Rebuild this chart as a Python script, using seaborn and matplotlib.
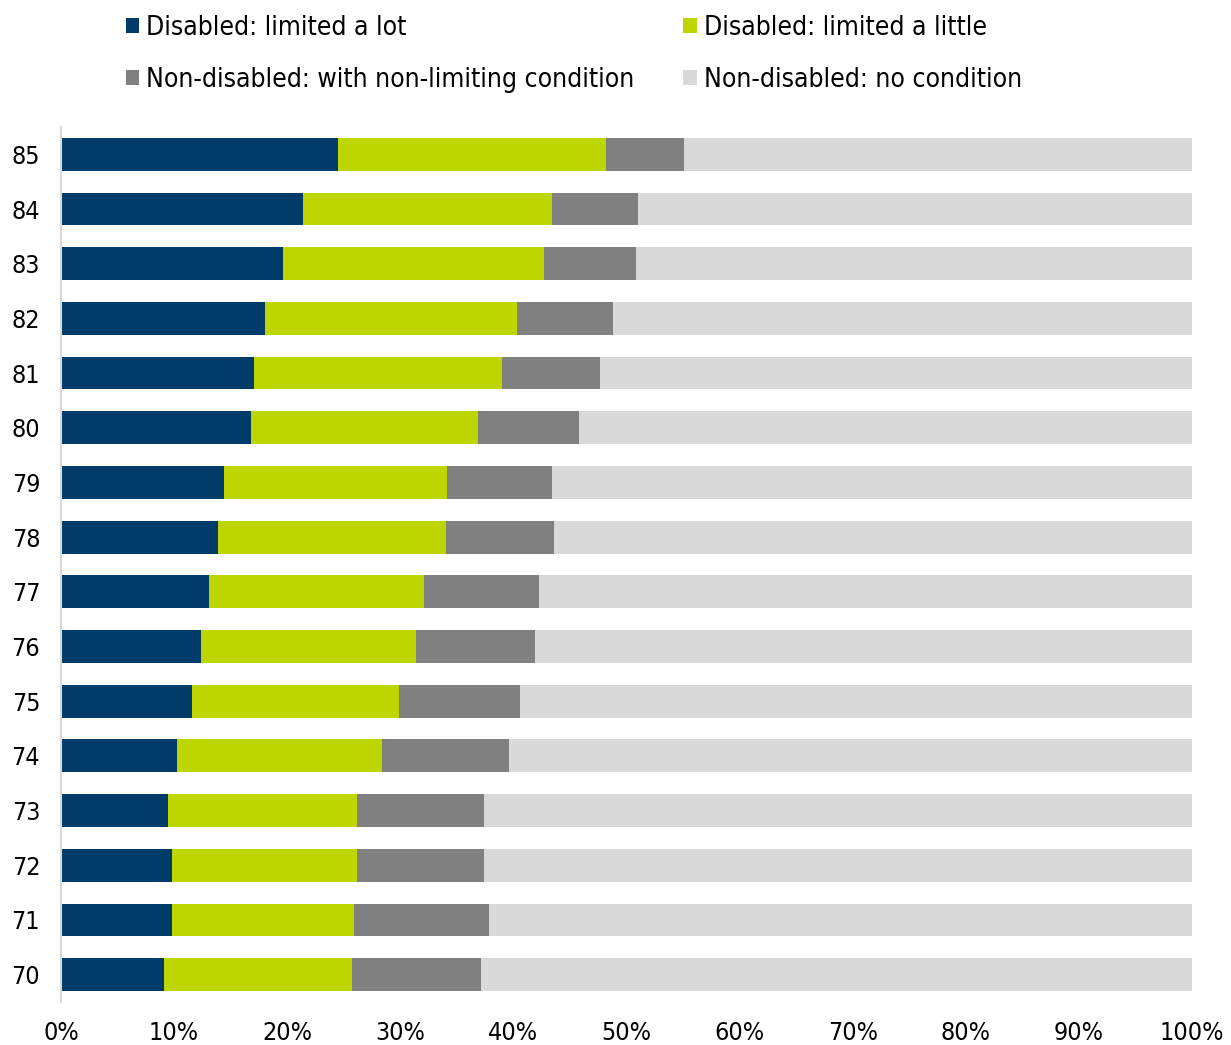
import matplotlib
matplotlib.use("Agg")
import matplotlib.pyplot as plt
from matplotlib.patches import Patch
import numpy as np
import pandas as pd
import seaborn as sns

# Single year of age, listed top to bottom
ages = ["85", "84", "83", "82", "81", "80", "79", "78", "77", "76", "75", "74", "73", "72", "71", "70"]

# Share of each age group (%)
limited_a_lot = [24.5, 21.4, 19.6, 18.0, 17.1, 16.8, 14.4, 13.9, 13.1, 12.4, 11.6, 10.3, 9.5, 9.8, 9.8, 9.1]
limited_a_little = [23.7, 22.0, 23.1, 22.3, 21.9, 20.1, 19.7, 20.1, 19.0, 19.0, 18.3, 18.1, 16.7, 16.4, 16.1, 16.6]
non_limiting = [6.9, 7.6, 8.1, 8.5, 8.7, 8.9, 9.3, 9.6, 10.2, 10.5, 10.7, 11.2, 11.2, 11.2, 11.9, 11.4]

series_names = [
    "Disabled: limited a lot",
    "Disabled: limited a little",
    "Non-disabled: with non-limiting condition",
    "Non-disabled: no condition",
]
colors = ["#003b69", "#bed600", "#808080", "#d9d9d9"]

no_condition = [100 - a - b - c for a, b, c in zip(limited_a_lot, limited_a_little, non_limiting)]

df = pd.DataFrame({
    "age": ages,
    series_names[0]: limited_a_lot,
    series_names[1]: limited_a_little,
    series_names[2]: non_limiting,
    series_names[3]: no_condition,
})

sns.set_theme(style="white")
plt.rcParams["font.family"] = ["DejaVu Sans"]
plt.rcParams["font.stretch"] = "condensed"
plt.rcParams["text.color"] = "#000000"

fig = plt.figure(figsize=(12.31, 10.45), dpi=100)
ax = fig.add_axes([61 / 1231, 43 / 1045, (1192 - 61) / 1231, (918 - 43) / 1045])

# Stacked bars: draw cumulative totals from the outermost segment inwards
cum = df[series_names].cumsum(axis=1)
for name, color in reversed(list(zip(series_names, colors))):
    sns.barplot(
        x=cum[name], y=df["age"], order=ages, orient="h",
        color=color, width=0.6, saturation=1, ax=ax, linewidth=0,
    )

ax.set_xlim(0, 100)
ax.set_ylim(len(ages) - 0.5, -0.5)
ax.set_xticks(np.arange(0, 101, 10))
ax.set_xticklabels([f"{v}%" for v in range(0, 101, 10)], fontsize=18, color="#000000")
ax.tick_params(axis="y", labelsize=18, colors="#000000", length=0, pad=15)
ax.tick_params(axis="x", length=0, pad=14)
ax.set_xlabel("")
ax.set_ylabel("")

for s in ["top", "right", "bottom"]:
    ax.spines[s].set_visible(False)
ax.spines["left"].set_color("#d9d9d9")
ax.spines["left"].set_linewidth(1.5)

# Two-column legend, filled column by column
legend_order = [0, 2, 1, 3]
handles = [Patch(facecolor=colors[i], edgecolor="none") for i in legend_order]
labels = [series_names[i] for i in legend_order]
leg = fig.legend(
    handles, labels, ncol=2, loc="upper left",
    bbox_to_anchor=(102 / 1231, 1.0 + 9 / 1045), frameon=False,
    handlelength=0.5, handleheight=0.5, handletextpad=0.28,
    columnspacing=1.85, labelspacing=1.0, prop={"stretch": "condensed", "size": 19},
)
for t in leg.get_texts():
    t.set_color("#000000")

fig.savefig("out.png", dpi=100)
